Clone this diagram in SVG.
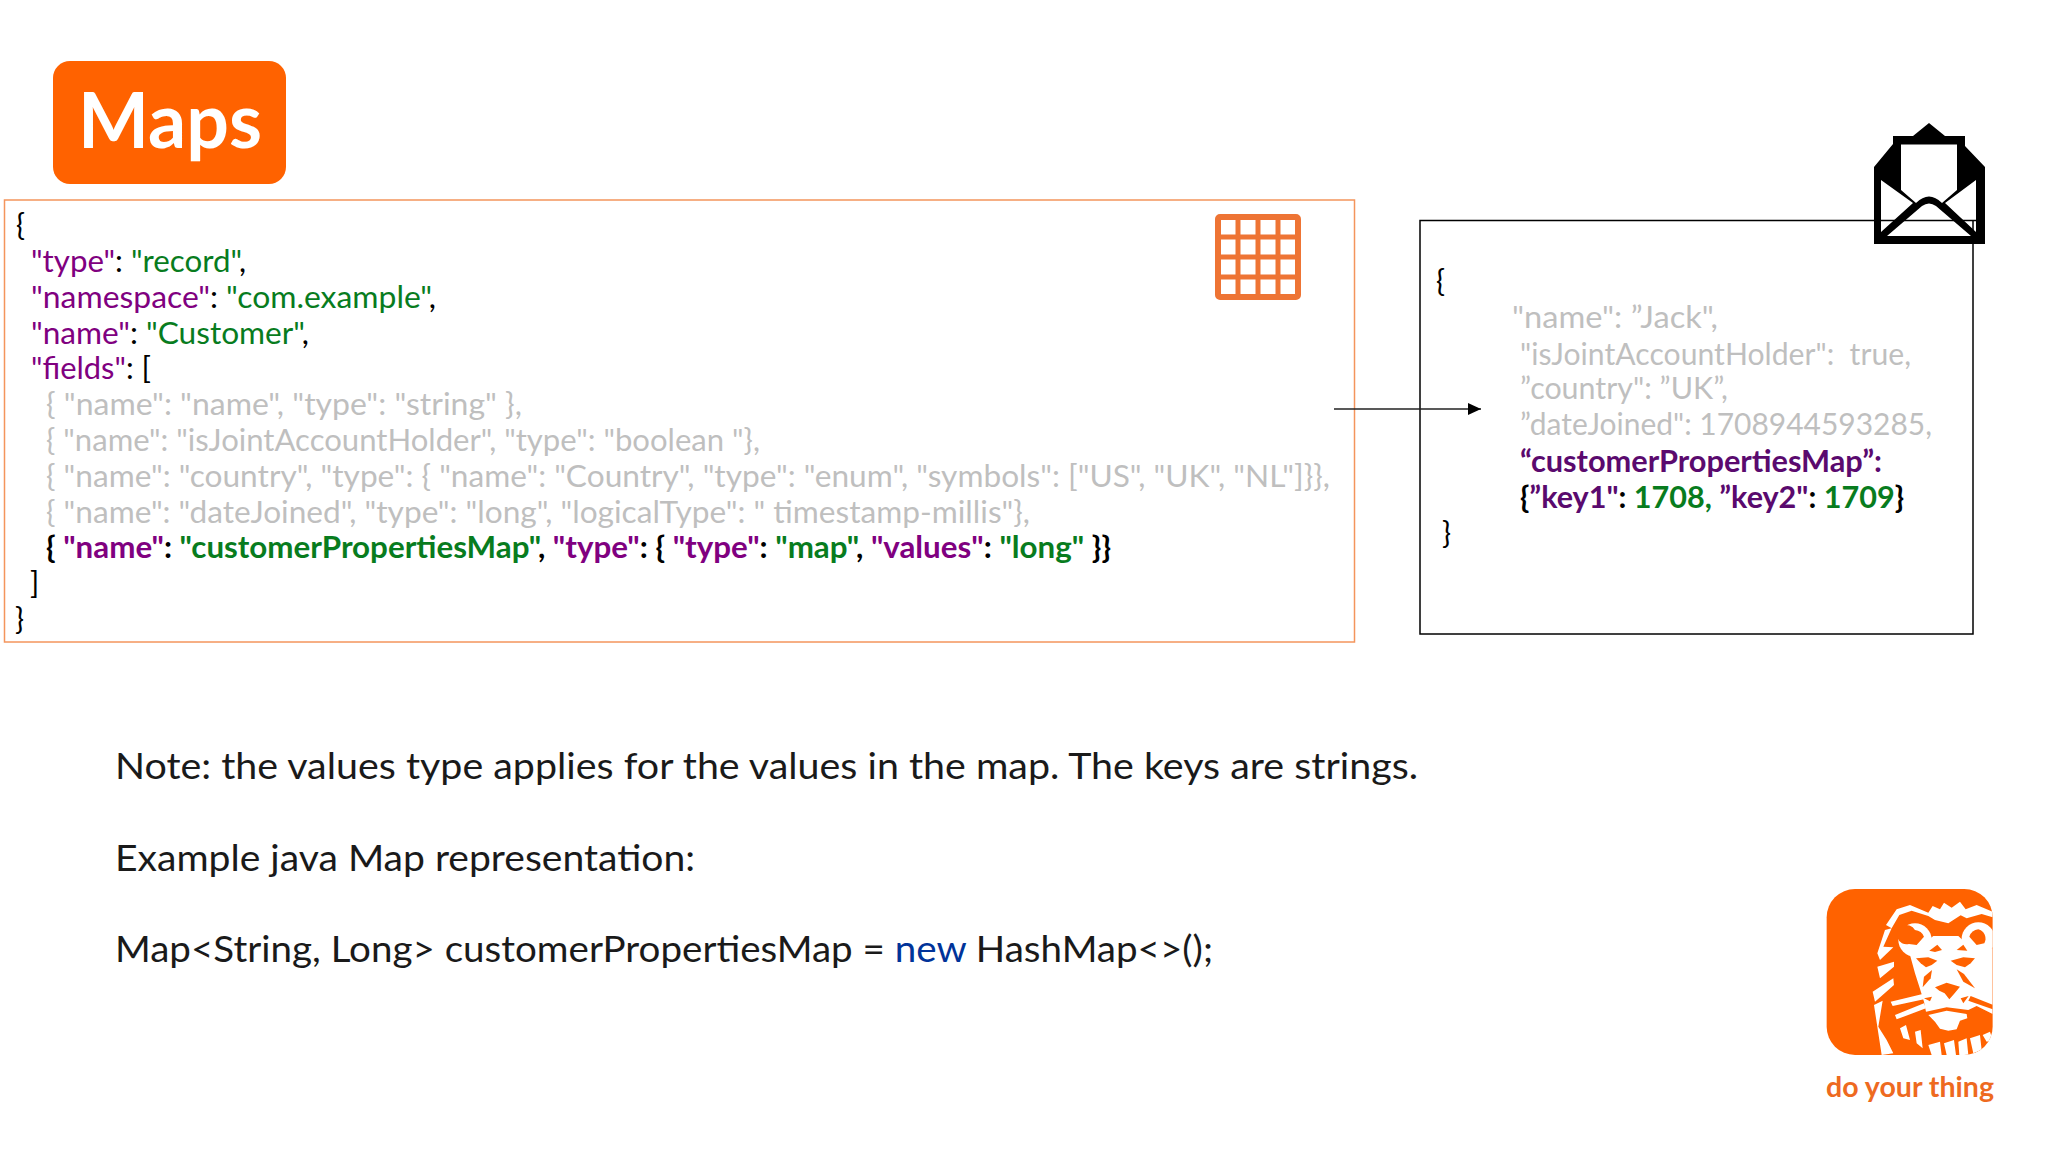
<svg xmlns="http://www.w3.org/2000/svg" width="2048" height="1152" viewBox="0 0 2048 1152">
<defs><marker id="ah" markerUnits="userSpaceOnUse" markerWidth="13" markerHeight="12" refX="13" refY="6" orient="auto"><path d="M0 0L13 6L0 12Z" fill="#000"/></marker>
<clipPath id="lc"><rect x="80" y="57" width="498" height="498" rx="85"/></clipPath></defs>
<style>
text{font-family:"Lato","Noto Sans",sans-serif;fill:#000}
.c{font-size:30px}.n{font-size:36.500px;fill:#1a1a1a}
.g{fill:#bfbfbf}.b{font-weight:700}.p{fill:#800080}.v{fill:#087c1e}.dp{fill:#5a0a6e}
</style>
<rect width="2048" height="1152" fill="#fff"/>
<g id="title"><rect x="53" y="61" width="233" height="123" rx="17" fill="#ff6200"/>
<text x="78" y="148" textLength="184" lengthAdjust="spacingAndGlyphs" style="font-size:77px;font-weight:700;fill:#fff">Maps</text></g>
<g id="schema"><rect x="4.500" y="200" width="1350" height="442" fill="#fff" stroke="#f4955c" stroke-width="1.500"/>
<text class="c" x="16" y="236">{</text>
<text class="c" x="31" y="272" textLength="215" lengthAdjust="spacingAndGlyphs"><tspan class="p">"type"</tspan>: <tspan class="v">"record"</tspan>,</text>
<text class="c" x="31" y="308" textLength="405" lengthAdjust="spacingAndGlyphs"><tspan class="p">"namespace"</tspan>: <tspan class="v">"com.example"</tspan>,</text>
<text class="c" x="31" y="344" textLength="278" lengthAdjust="spacingAndGlyphs"><tspan class="p">"name"</tspan>: <tspan class="v">"Customer"</tspan>,</text>
<text class="c" x="31" y="379" textLength="120" lengthAdjust="spacingAndGlyphs"><tspan class="p">"fields"</tspan>: [</text>
<text class="c g" x="46" y="415" textLength="476" lengthAdjust="spacingAndGlyphs">{ "name": "name", "type": "string" },</text>
<text class="c g" x="46" y="451" textLength="714" lengthAdjust="spacingAndGlyphs">{ "name": "isJointAccountHolder", "type": "boolean "},</text>
<text class="c g" x="46" y="487" textLength="1284" lengthAdjust="spacingAndGlyphs">{ "name": "country", "type": { "name": "Country", "type": "enum", "symbols": ["US", "UK", "NL"]}},</text>
<text class="c g" x="46" y="523" textLength="984" lengthAdjust="spacingAndGlyphs">{ "name": "dateJoined", "type": "long", "logicalType": " timestamp-millis"},</text>
<text class="c b" x="46" y="558" textLength="1065" lengthAdjust="spacingAndGlyphs">{ <tspan class="p">"name"</tspan>: <tspan class="v">"customerPropertiesMap"</tspan>, <tspan class="p">"type"</tspan>: { <tspan class="p">"type"</tspan>: <tspan class="v">"map"</tspan>, <tspan class="p">"values"</tspan>: <tspan class="v">"long"</tspan> }}</text>
<text class="c" x="30" y="594">]</text>
<text class="c" x="15" y="630">}</text></g>
<g id="table-icon" fill="none" stroke="#ee7434"><rect x="1218" y="217" width="80" height="80" rx="2" stroke-width="6"/>
<path d="M1238 217V297M1258 217V297M1278 217V297M1218 237H1298M1218 257H1298M1218 277H1298" stroke-width="5"/></g>
<g id="message"><rect x="1420" y="220.500" width="553" height="413.500" fill="#fff" stroke="#000" stroke-width="1.500"/>
<text class="c" x="1436" y="292">{</text>
<text class="c g" x="1512" y="328" textLength="206" lengthAdjust="spacingAndGlyphs">"name": ”Jack",</text>
<text class="c g" x="1520" y="365" textLength="391" lengthAdjust="spacingAndGlyphs" xml:space="preserve">"isJointAccountHolder":  true,</text>
<text class="c g" x="1520" y="399" textLength="208" lengthAdjust="spacingAndGlyphs">”country": ”UK”,</text>
<text class="c g" x="1520" y="435" textLength="412" lengthAdjust="spacingAndGlyphs">”dateJoined": 1708944593285,</text>
<text class="c b" x="1520" y="472" textLength="362" lengthAdjust="spacingAndGlyphs" style="fill:#5a0a6e">“customerPropertiesMap”:</text>
<text class="c b" x="1520" y="508" textLength="384" lengthAdjust="spacingAndGlyphs">{<tspan class="dp">”key1"</tspan>: <tspan class="v">1708,</tspan> <tspan class="dp">”key2"</tspan>: <tspan class="v">1709</tspan>}</text>
<text class="c" x="1442" y="544">}</text></g>
<g id="connectors"><path d="M1334 409H1481" fill="none" stroke="#222" stroke-width="1.300" marker-end="url(#ah)"/></g>
<g id="envelope">
<path d="M1929 123L1913 136H1893V144L1874 167V244H1985V167L1965 146V136H1945Z" fill="#000"/>
<path d="M1901 144.500H1957V190L1942 203Q1929 190 1916 203L1901 190Z" fill="#fff"/>
<path d="M1881 180V232L1913 203ZM1976 180V232L1945 203ZM1887 236L1922 206Q1929 201 1936 206L1971 236Z" fill="#fff"/>
<path d="M1881 220.500H1976M1973 220V244" stroke="#000" stroke-width="1.500" fill="none"/>
</g>
<g id="note"><text class="n" x="115" y="779" textLength="1303" lengthAdjust="spacingAndGlyphs">Note: the values type applies for the values in the map. The keys are strings.</text>
<text class="n" x="115" y="871" textLength="580" lengthAdjust="spacingAndGlyphs">Example java Map representation:</text>
<text class="n" x="115" y="962" textLength="1098" lengthAdjust="spacingAndGlyphs">Map&lt;String, Long&gt; customerPropertiesMap = <tspan style="fill:#003399">new</tspan> HashMap&lt;&gt;();</text></g>
<g id="logo"><g transform="translate(1800 870) scale(.3333)">
<rect x="80" y="57" width="498" height="498" rx="85" fill="#ff6200"/>
<g clip-path="url(#lc)" fill="#fff">
<path d="M258 165L290 118L330 105L385 128L398 108L420 118L432 98L455 113L480 95L497 118L530 105L578 125V142L545 132L500 145L482 136L445 160L405 150L385 138L335 122L298 135L275 175Z"/>
<circle cx="345" cy="210" r="50"/><circle cx="535" cy="207" r="50"/>
<path d="M330 255L400 198H475L530 250L578 235V432L530 408L505 420L440 412L378 425L372 395L358 350L345 310Z"/>
<path d="M272 395L368 372L372 388L278 408ZM285 435L372 400L378 415L290 448Z"/>
<path d="M385 435L440 422L500 432L502 445L480 452L470 478L445 482L420 476L405 455Z"/>
<path d="M255 180L275 175L250 230L280 232L240 270L232 250ZM232 290L282 275L282 290L240 325ZM218 365L280 325L282 345L225 395ZM222 405L248 392L235 470L260 510L280 550L245 555L235 490Z"/>
<path d="M300 475L318 465L330 510L310 505ZM345 485L362 480L368 535L350 520ZM385 525L420 515L425 555H395ZM432 520L462 510L468 555H440ZM475 515L500 505L505 555H478ZM510 505L540 495L545 540L520 550ZM548 495L570 485L578 510L560 515Z"/>
</g>
<g clip-path="url(#lc)" fill="#ff6200">
<path d="M345 180a29 29 0 1 0 -18 42L350 225L372 200Q365 182 345 180Z"/>
<path d="M535 178a29 29 0 0 1 18 42L530 225L508 200Q515 180 535 178Z"/>
<path d="M348 265L385 262L412 272L395 285L378 292L362 280Z"/>
<path d="M525 265L490 262L452 272L470 285L495 292L512 280Z"/>
<path d="M372 320L396 300L392 325L368 352Z"/>
<path d="M470 298L492 312L525 355L490 335Z"/>
<path d="M388 242L412 224L426 240L405 246Z"/>
<path d="M470 240L490 224L502 242Z"/>
<path d="M405 352L440 338L480 350L462 372L448 388L434 370L418 362Z"/>
<path d="M372 385L396 380L390 394ZM482 385L506 378L490 400Z"/>
<path d="M505 392L578 418V404L512 378Z"/>
</g></g>
<text x="1826" y="1097" textLength="168" lengthAdjust="spacingAndGlyphs" style="font-size:29px;font-weight:700;fill:#ee6a1f">do your thing</text></g>
</svg>
